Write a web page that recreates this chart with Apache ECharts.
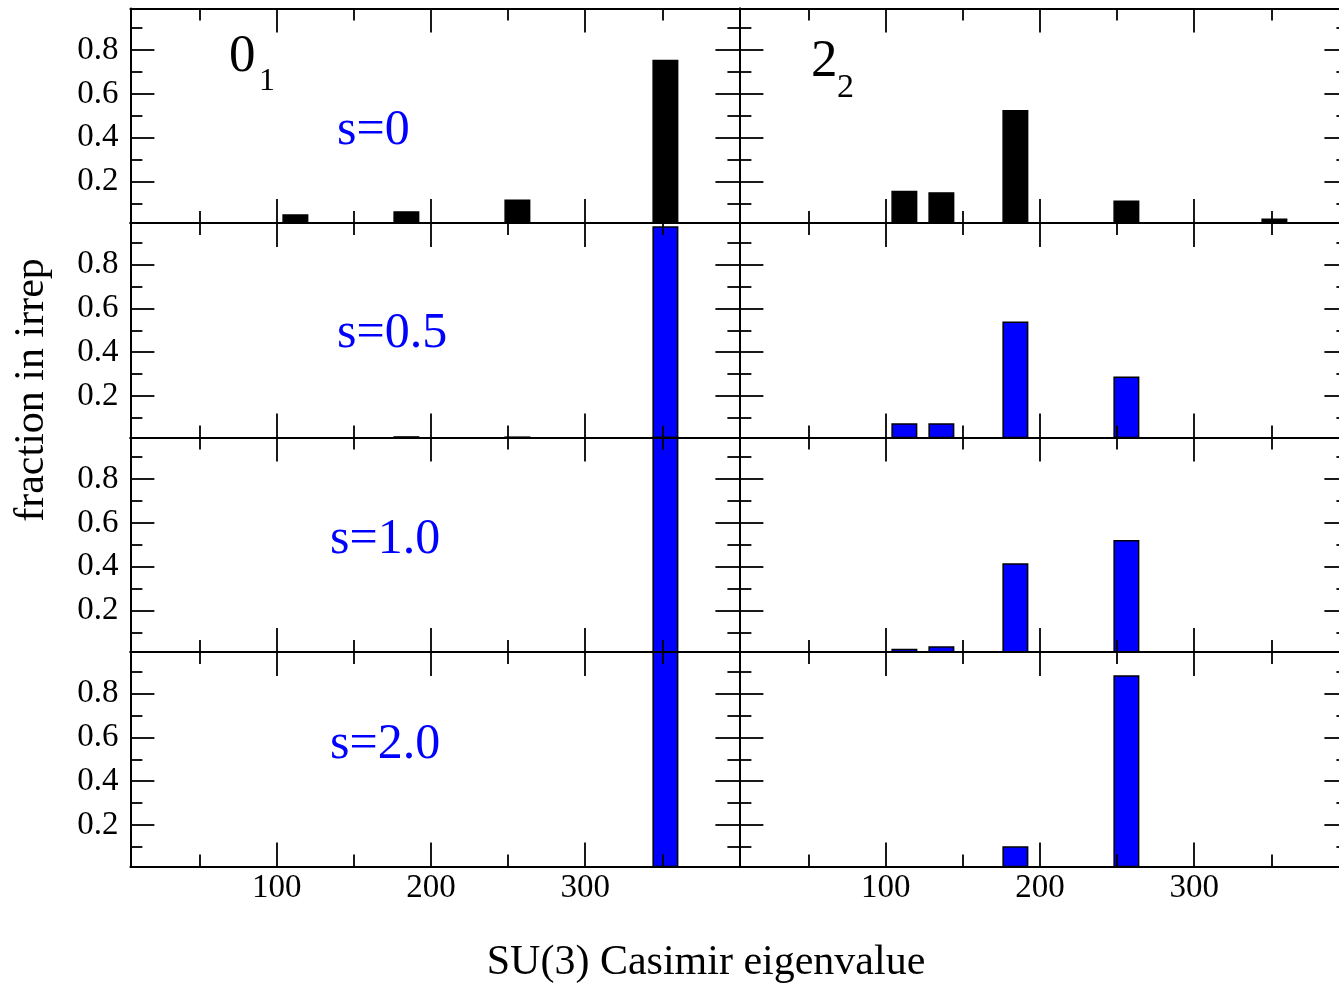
<!DOCTYPE html>
<html>
<head>
<meta charset="utf-8">
<script src="https://cdn.jsdelivr.net/npm/echarts@6/dist/echarts.min.js"></script>
<style>
  html, body { margin: 0; padding: 0; background: #fff; }
  #main { width: 1339px; height: 985px; }
</style>
</head>
<body>
<div id="main"></div>
<script>
// SU(3) Casimir eigenvalues (x positions of the bars)
var casimir = [100, 112, 136, 184, 256, 352];

// fraction in irrep, one value per casimir eigenvalue (0 = no bar)
// left column: 0_1
var left_s0  = [0, 0.050, 0, 0.064, 0.117, 0.756];
var left_s05 = [0, 0, 0, 0.016, 0.015, 0.975];
var left_s10 = [0, 0, 0, 0, 0, 1.0];
var left_s20 = [0, 0, 0, 0, 0, 1.0];
// right column: 2_2
var right_s0  = [0.013, 0.157, 0.151, 0.526, 0.113, 0.031];
var right_s05 = [0, 0.075, 0.075, 0.540, 0.289, 0];
var right_s10 = [0, 0.025, 0.036, 0.415, 0.522, 0];
var right_s20 = [0, 0, 0, 0.102, 0.884, 0];

var sLabels = ['s=0', 's=0.5', 's=1.0', 's=2.0'];
var xMajor = [100, 200, 300];
var xMinor = [50, 150, 250, 350];
var yMajor = [0.2, 0.4, 0.6, 0.8];
var yMinor = [0.1, 0.3, 0.5, 0.7, 0.9];
var xMin = 5, xMax = 400;
var yMin = 0.01, yMax = 0.99;

var FONT = 'Liberation Serif, Times New Roman, serif';

var myChart = echarts.init(document.getElementById('main'));

// layout of the 2x4 panels (right column runs past the picture edge)
var colLeft = [130.4, 739.4];
var panelW = 609;
var panelTop = 8.5, panelH = 214.5;

var panels = [
  { col: 0, row: 0, vals: left_s0,  fill: '#000000' },
  { col: 0, row: 1, vals: left_s05, fill: '#0000ff' },
  { col: 0, row: 2, vals: left_s10, fill: '#0000ff' },
  { col: 0, row: 3, vals: left_s20, fill: '#0000ff' },
  { col: 1, row: 0, vals: right_s0,  fill: '#000000' },
  { col: 1, row: 1, vals: right_s05, fill: '#0000ff' },
  { col: 1, row: 2, vals: right_s10, fill: '#0000ff' },
  { col: 1, row: 3, vals: right_s20, fill: '#0000ff' }
];

var grids = [], xAxes = [], yAxes = [], series = [];
var lineStyle = { color: '#000', width: 2 };
var tickStyle = { color: '#000', width: 1.8 };

panels.forEach(function (p, gi) {
  grids.push({
    left: colLeft[p.col], top: panelTop + p.row * panelH,
    width: panelW, height: panelH,
    outerBoundsMode: 'none'
  });

  // 4 x axes per panel: bottom major/minor, top major/minor
  ['bottom', 'top'].forEach(function (pos) {
    [[xMajor, 24], [xMinor, 12]].forEach(function (t, k) {
      xAxes.push({
        type: 'value', gridIndex: gi, position: pos, min: xMin, max: xMax, z: 5,
        axisLine: { show: k === 0, onZero: false, lineStyle: lineStyle },
        axisTick: { show: true, inside: true, length: t[1], customValues: t[0], lineStyle: tickStyle },
        axisLabel: {
          show: pos === 'bottom' && k === 0 && p.row === 3,
          customValues: xMajor, margin: 22, verticalAlign: 'middle',
          color: '#000', fontFamily: FONT, fontSize: 33
        },
        splitLine: { show: false }
      });
    });
  });

  // 4 y axes per panel: left major/minor, right major/minor
  ['left', 'right'].forEach(function (pos) {
    [[yMajor, 24], [yMinor, 12]].forEach(function (t, k) {
      yAxes.push({
        type: 'value', gridIndex: gi, position: pos, min: yMin, max: yMax, z: 5,
        axisLine: { show: k === 0, onZero: false, lineStyle: lineStyle },
        axisTick: { show: true, inside: true, length: t[1], customValues: t[0], lineStyle: tickStyle },
        axisLabel: {
          show: pos === 'left' && k === 0 && p.col === 0,
          customValues: yMajor, margin: 12,
          formatter: function (v) { return v.toFixed(1); },
          color: '#000', fontFamily: FONT, fontSize: 33
        },
        splitLine: { show: false }
      });
    });
  });

  var data = [];
  casimir.forEach(function (c, i) {
    if (p.vals[i] > 0) data.push([c, p.vals[i]]);
  });

  series.push({
    type: 'bar', xAxisIndex: gi * 4, yAxisIndex: gi * 4,
    barWidth: 26, clip: true, silent: true,
    itemStyle: { color: p.fill, borderColor: '#000', borderWidth: 1.5 },
    data: data
  });
});

var graphic = [];
// panel labels 0_1 and 2_2
graphic.push({ type: 'text', left: 229, top: 31, style: { text: '0', font: '53px ' + FONT, fill: '#000' } });
graphic.push({ type: 'text', left: 259, top: 66, style: { text: '1', font: '32px ' + FONT, fill: '#000' } });
graphic.push({ type: 'text', left: 811, top: 36, style: { text: '2', font: '53px ' + FONT, fill: '#000' } });
graphic.push({ type: 'text', left: 837, top: 71, style: { text: '2', font: '34px ' + FONT, fill: '#000' } });

// s labels
var sPos = [[337, 131], [337, 334], [330, 540], [330, 745]];
sLabels.forEach(function (s, i) {
  graphic.push({
    type: 'text', x: sPos[i][0], y: sPos[i][1],
    style: { text: s, font: '50px ' + FONT, fill: '#0000ff', align: 'left', verticalAlign: 'middle' }
  });
});

// axis titles
graphic.push({
  type: 'text', x: 706, y: 963,
  style: { text: 'SU(3) Casimir eigenvalue', font: '42px ' + FONT, fill: '#000', align: 'center', verticalAlign: 'middle' }
});
graphic.push({
  type: 'text', x: 32, y: 390, rotation: Math.PI / 2,
  style: { text: 'fraction in irrep', font: '42px ' + FONT, fill: '#000', align: 'center', verticalAlign: 'middle' }
});

option = {
  animation: false,
  backgroundColor: '#fff',
  grid: grids,
  xAxis: xAxes,
  yAxis: yAxes,
  series: series,
  graphic: graphic
};
myChart.setOption(option);
</script>
</body>
</html>
